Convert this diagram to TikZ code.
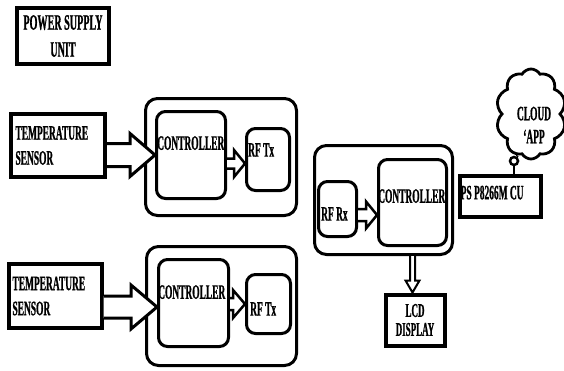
\documentclass[tikz,border=0pt]{standalone}
\usepackage{fontspec}
\newfontfamily\diagfont{Liberation Serif}[FakeStretch=0.46,FakeBold=0.8]
\usetikzlibrary{positioning,calc,shapes.symbols}

% wide open arrow: [opts]{from}{to}{shaft half}{head half}{head length}
\newcommand{\hollowarrow}[6][]{%
  \path ($(#3)!#6!(#2)$) coordinate (hb);
  \draw[hollow,#1] ($(#2)!#4!90:(#3)$) -- ($(hb)!#4!90:(#3)$) -- ($(hb)!#5!90:(#3)$)
    -- (#3) -- ($(hb)!#5!-90:(#3)$) -- ($(hb)!#4!-90:(#3)$) -- ($(#2)!#4!-90:(#3)$);
}

\begin{document}
\begin{tikzpicture}[x=1pt,y=-1pt,
  blocktext/.style={font=\diagfont\bfseries\fontsize{20.5}{25}\selectfont},
  squarebox/.style={draw, line width=4pt, fill=white, inner sep=4pt, blocktext},
  roundbox/.style={draw, line width=3pt, rounded corners=12pt, fill=white},
  innerbox/.style={draw, line width=3pt, rounded corners=9pt, fill=white},
  lbl/.style={blocktext, inner sep=0pt},
  hollow/.style={draw, fill=white, line width=2.5pt, line join=miter}]
  \useasboundingbox (0,0) rectangle (564,370);

  % power supply
  \node[squarebox, minimum width=92pt, minimum height=56pt, align=center,
        font=\diagfont\bfseries\fontsize{22}{27}\selectfont] (psu) at (63,36) {POWER SUPPLY\\UNIT};

  % sensor node 1
  \node[squarebox, minimum width=94pt, minimum height=63pt, text width=85pt, align=left] (ts1) at (58,145.5) {TEMPERATURE\\SENSOR};
  \node[roundbox, minimum width=151pt, minimum height=117pt] (out1) at (221,157) {};
  \node[innerbox, minimum width=69pt, minimum height=87pt] (ctl1) at (191,155) {};
  \node[lbl, below right=26pt and 2pt of ctl1.north west] (ctl1txt) {CONTROLLER};
  \node[innerbox, minimum width=43pt, minimum height=62pt] (rf1) at (268,159.5) {};
  \node[lbl, below right=16pt and 3pt of rf1.north west] (rf1txt) {RF Tx};

  % sensor node 2
  \node[squarebox, minimum width=90pt, minimum height=64pt, text width=85pt, align=left] (ts2) at (55,296) {TEMPERATURE\\SENSOR};
  \node[roundbox, minimum width=150pt, minimum height=119pt] (out2) at (221.5,306) {};
  \node[innerbox, minimum width=70pt, minimum height=87pt] (ctl2) at (193.5,303) {};
  \node[lbl, below right=27pt and 1pt of ctl2.north west] (ctl2txt) {CONTROLLER};
  \node[innerbox, minimum width=44pt, minimum height=59pt] (rf2) at (268.5,304) {};
  \node[lbl, below right=29pt and 5pt of rf2.north west] (rf2txt) {RF Tx};

  % receiver
  \node[roundbox, minimum width=138pt, minimum height=109pt] (out3) at (383.5,200) {};
  \node[innerbox, minimum width=38pt, minimum height=55pt] (rfrx) at (337.5,209) {};
  \node[lbl, below right=27pt and 4pt of rfrx.north west] (rfrxtxt) {RF Rx};
  \node[innerbox, minimum width=68pt, minimum height=86pt] (ctl3) at (412.5,202.5) {};
  \node[lbl, below right=31pt and 1pt of ctl3.north west] (ctl3txt) {CONTROLLER};

  % wifi module, display, cloud
  \node[squarebox, minimum width=81pt, minimum height=41pt] (esp) at (500,196) {};
  \node[lbl, below right=12pt and 3pt of esp.north west] (esptxt) {PS P8266M CU};
  \node[squarebox, minimum width=59pt, minimum height=51pt, align=center,
        font=\diagfont\bfseries\fontsize{19.5}{19}\selectfont] (lcd) at (415,320) {LCD\\DISPLAY};
  \node[cloud, draw, line width=2.8pt, cloud puffs=10, cloud puff arc=120, aspect=0.75,
        minimum width=70pt, minimum height=90pt] (cloud) at (531,114) {};
  \node[lbl, align=center, font=\diagfont\bfseries\fontsize{20.5}{23}\selectfont] (cloudtxt) at (534,125) {CLOUD\\\textquoteleft APP};
  \node[circle, draw, line width=2.5pt, minimum size=8pt, inner sep=0pt] (bub) at (514,161) {};
  \draw[line width=2.5pt] (cloud.252) -- (bub);
  \draw[line width=2.5pt] (bub) -- (bub |- esp.north);

  % arrows
  \path (ts1.east |- ctl1.west) coordinate (a1s);
  \hollowarrow[line width=3pt]{a1s}{ctl1.west}{11.5pt}{21.5pt}{25pt}
  \path (ts2.east |- ctl2.west) ++(0,4) coordinate (a2s);
  \path (ctl2.west) ++(0,4) coordinate (a2e);
  \hollowarrow[line width=3pt]{a2s}{a2e}{11pt}{22pt}{26pt}
  \path (ctl1.east |- rf1.west) ++(0,4) coordinate (a3s);
  \path (rf1.west) ++(0,4) coordinate (a3e);
  \hollowarrow{a3s}{a3e}{5pt}{13.5pt}{11pt}
  \path (ctl2.east |- rf2.west) coordinate (a4s);
  \hollowarrow{a4s}{rf2.west}{6pt}{14pt}{12pt}
  \path (rfrx.east) ++(0,6) coordinate (a5s);
  \path (ctl3.west |- a5s) coordinate (a5e);
  \hollowarrow{a5s}{a5e}{6pt}{13.5pt}{11pt}
  \path (ctl3.south |- out3.south) coordinate (a6s);
  \path (ctl3.south |- lcd.north) coordinate (a6e);
  \hollowarrow[line width=2pt]{a6s}{a6e}{2.5pt}{7pt}{12pt}
\end{tikzpicture}
\end{document}
